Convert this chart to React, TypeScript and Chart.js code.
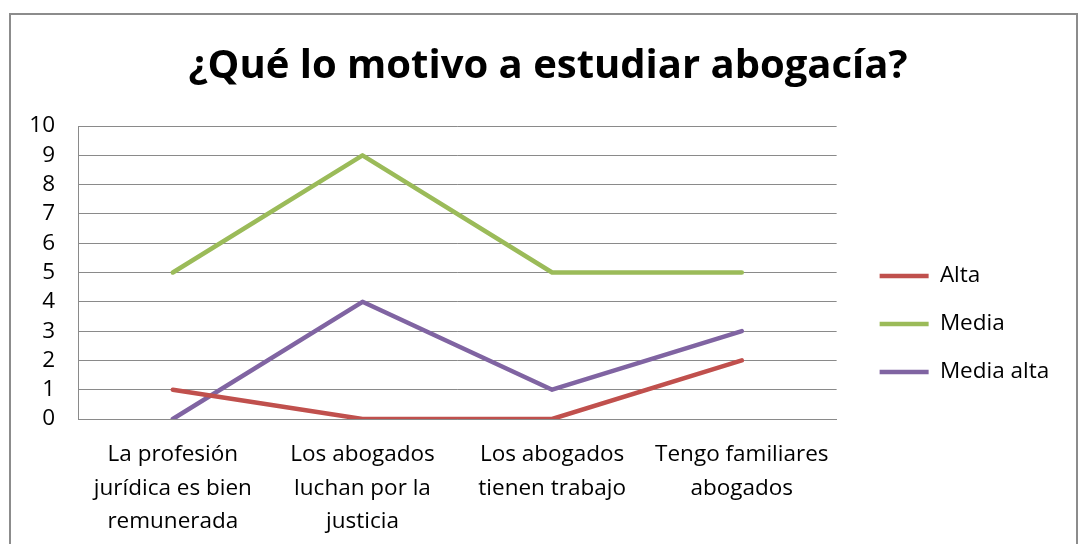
import React, { useEffect, useRef } from "react";
import { Chart, registerables } from "chart.js";

Chart.register(...registerables);

const TITLE = "¿Qué lo motivo a estudiar abogacía?";
const categories: string[][] = [
  ["La profesión", "jurídica es bien", "remunerada"],
  ["Los abogados", "luchan por la", "justicia"],
  ["Los abogados", "tienen trabajo"],
  ["Tengo familiares", "abogados"],
];
const alta = [1, 0, 0, 2];
const media = [5, 9, 5, 5];
const mediaAlta = [0, 4, 1, 3];
const yTicks = { min: 0, max: 10, step: 1 };

const FONT = "'Open Sans', 'Noto Sans', sans-serif";
const GRID = "#8a8a8a";
const TXT = 22.5;

const frame = {
  id: "frame",
  afterLayout(chart: any) {
    // let the y tick labels extend into the left padding (avoid clipping)
    const y = chart.scales.y;
    if (y) y.left = 0;
  },
  beforeDraw(chart: any) {
    const ctx = chart.ctx;
    ctx.save();
    ctx.fillStyle = "#ffffff";
    ctx.fillRect(0, 0, chart.width, chart.height);
    ctx.strokeStyle = "#8c8c8c";
    ctx.lineWidth = 2;
    ctx.strokeRect(10, 14, 1067, 600);
    ctx.restore();
  },
};

export default function App() {
  const ref = useRef<HTMLCanvasElement | null>(null);
  useEffect(() => {
    if (!ref.current) return;
    const chart = new Chart(ref.current, {
      type: "line",
      data: {
        labels: categories,
        datasets: [
          { label: "Alta", data: alta, borderColor: "#C0504D", backgroundColor: "#C0504D" },
          { label: "Media", data: media, borderColor: "#9BBB59", backgroundColor: "#9BBB59" },
          { label: "Media alta", data: mediaAlta, borderColor: "#8064A2", backgroundColor: "#8064A2" },
        ].map((d) => ({
          ...d,
          borderWidth: 4.5,
          pointRadius: 0,
          pointHoverRadius: 0,
          tension: 0,
          borderCapStyle: "round" as const,
          borderJoinStyle: "round" as const,
          yAxisID: "y",
        })),
      },
      plugins: [frame],
      options: {
        responsive: false,
        animation: false,
        color: "#000",
        layout: { padding: { left: 36.75, right: 18.75, top: 0, bottom: 0 } },
        plugins: {
          title: {
            display: true,
            text: TITLE,
            color: "#000",
            font: { family: FONT, size: 40, weight: "bold", lineHeight: 1.2 },
            padding: { top: 43, bottom: 35 },
          },
          legend: {
            position: "right",
            maxWidth: 500,
            title: { display: true, text: " ", font: { size: 4, lineHeight: 1.2 }, padding: 49.6 },
            labels: {
              usePointStyle: true,
              pointStyle: "line",
              pointStyleWidth: 49,
              padding: 25.5,
              color: "#000",
              font: { family: FONT, size: TXT },
            },
          },
          tooltip: { enabled: false },
        },
        scales: {
          x: {
            offset: true,
            grid: { display: false, drawTicks: false },
            border: { display: true, color: GRID, width: 1 },
            ticks: {
              color: "#000",
              padding: 19.5,
              maxRotation: 0,
              autoSkip: false,
              font: { family: FONT, size: TXT, lineHeight: 1.47 },
            },
            afterFit: (s: any) => {
              s.height = 125;
            },
          },
          y: {
            position: "left",
            min: yTicks.min,
            max: yTicks.max,
            grid: { color: GRID, lineWidth: 1, drawTicks: false },
            border: { display: true, color: GRID, width: 1 },
            ticks: {
              stepSize: yTicks.step,
              autoSkip: false,
              color: "#000",
              padding: 23,
              font: { family: FONT, size: TXT },
            },
            afterFit: (s: any) => {
              s.width = 78 - 36.75;
            },
          },
          y2: {
            position: "right",
            display: true,
            grid: { display: false, drawTicks: false },
            border: { display: false },
            ticks: { display: false },
            afterFit: (s: any) => {
              s.width = 17.5;
            },
          },
        },
      } as any,
    });
    return () => chart.destroy();
  }, []);
  return (
    <div style={{ position: "fixed", left: 0, top: 0, width: 1078, height: 544, background: "#fff" }}>
      <canvas ref={ref} width={1078} height={544} style={{ width: 1078, height: 544, display: "block" }} />
    </div>
  );
}
